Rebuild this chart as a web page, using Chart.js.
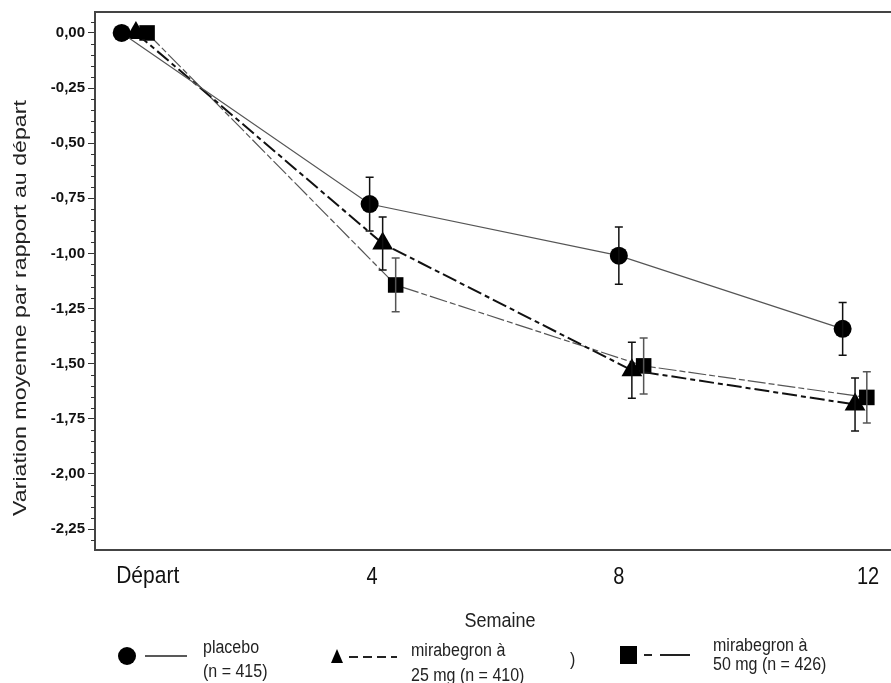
<!DOCTYPE html>
<html lang="fr">
<head>
<meta charset="utf-8">
<script src="https://cdn.jsdelivr.net/npm/chart.js@4.4.0/dist/chart.umd.min.js"></script>
<style>
  html, body { margin: 0; padding: 0; background: #fff; }
  #wrap { width: 891px; height: 683px; }
</style>
</head>
<body>
<div id="wrap"><canvas id="chart" width="891" height="683"></canvas></div>
<script>
// Values: mean change from baseline, with error bars
const xTickValues = [0.19, 3.81, 7.79, 11.81];
const xTickLabels = ['Départ', '4', '8', '12'];
const yTickValues = [0, -0.25, -0.5, -0.75, -1, -1.25, -1.5, -1.75, -2, -2.25];

const placeboWeek = [-0.23, 3.77, 7.79, 11.40];
const placeboMean = [0, -0.776, -1.01, -1.342];
const placeboErr = [0, 0.122, 0.13, 0.12];

const mira25Week = [0, 3.98, 8.0, 11.6];
const mira25Mean = [0, -0.955, -1.53, -1.685];
const mira25Err = [0, 0.12, 0.127, 0.12];

const mira50Week = [0.18, 4.19, 8.19, 11.79];
const mira50Mean = [0, -1.143, -1.51, -1.653];
const mira50Err = [0, 0.122, 0.127, 0.116];

const legendPlacebo = ['placebo', '(n = 415)'];
const legend25 = ['mirabegron à', '25 mg (n = 410)'];
const legend50 = ['mirabegron à', '50 mg (n = 426)'];

const SANS = '"Liberation Sans", Arial, sans-serif';

function toPoints(xs, ys) {
  return xs.map((x, i) => ({ x: x, y: ys[i] }));
}

// text stretched vertically, the source figure has tall narrow lettering
function tallText(ctx, text, x, y, size, align, sy) {
  ctx.save();
  ctx.font = size + 'px ' + SANS;
  ctx.textAlign = align;
  ctx.textBaseline = 'middle';
  ctx.translate(x, y);
  ctx.scale(1, sy);
  ctx.fillText(text, 0, 0);
  ctx.restore();
}

// Error bars
const errorBars = {
  id: 'errorBars',
  afterDatasetsDraw(chart) {
    const ctx = chart.ctx;
    const xs = chart.scales.x, ys = chart.scales.y;
    chart.data.datasets.forEach(ds => {
      if (!ds.errors) return;
      ctx.save();
      ctx.strokeStyle = ds.errColor;
      ctx.lineWidth = 1.5;
      ds.data.forEach((p, i) => {
        const e = ds.errors[i];
        if (!e) return;
        const px = xs.getPixelForValue(p.x);
        const top = ys.getPixelForValue(p.y + e);
        const bot = ys.getPixelForValue(p.y - e);
        ctx.beginPath();
        ctx.moveTo(px, top); ctx.lineTo(px, bot);
        ctx.moveTo(px - 4, top); ctx.lineTo(px + 4, top);
        ctx.moveTo(px - 4, bot); ctx.lineTo(px + 4, bot);
        ctx.stroke();
      });
      ctx.restore();
    });
  }
};

// Frame top line, minor ticks, x labels, axis titles and the legend
const decorations = {
  id: 'decorations',
  afterDraw(chart) {
    const ctx = chart.ctx;
    const a = chart.chartArea;
    const xs = chart.scales.x, ys = chart.scales.y;
    ctx.save();
    ctx.strokeStyle = '#444';
    ctx.lineWidth = 2;
    ctx.beginPath();
    ctx.moveTo(a.left - 1, a.top);
    ctx.lineTo(a.right, a.top);
    ctx.stroke();

    // minor ticks every 0.05
    ctx.lineWidth = 1;
    ctx.strokeStyle = '#333';
    for (let k = 1; k >= -47; k--) {
      if (k % 5 === 0) continue;
      const py = Math.round(ys.getPixelForValue(k * 0.05)) + 0.5;
      if (py < a.top || py > a.bottom) continue;
      ctx.beginPath();
      ctx.moveTo(a.left - 4, py);
      ctx.lineTo(a.left, py);
      ctx.stroke();
    }

    // y title
    ctx.fillStyle = '#222';
    ctx.font = '19px ' + SANS;
    ctx.textAlign = 'center';
    ctx.textBaseline = 'middle';
    ctx.translate(21, 308);
    ctx.rotate(-Math.PI / 2);
    ctx.scale(1.22, 1);
    ctx.fillText('Variation moyenne par rapport au départ', 0, 0);
    ctx.restore();

    ctx.save();
    // x tick labels
    ctx.fillStyle = '#111';
    xTickValues.forEach((v, i) => {
      const px = xs.getPixelForValue(v);
      if (i === 0) tallText(ctx, xTickLabels[i], px, 577, 21, 'center', 1.1);
      else tallText(ctx, xTickLabels[i], px, 577, 20, 'center', 1.2);
    });

    ctx.fillStyle = '#222';
    tallText(ctx, 'Semaine', 500, 621, 18, 'center', 1.15);

    // legend
    ctx.strokeStyle = '#222';
    ctx.fillStyle = '#000';
    ctx.beginPath();
    ctx.arc(127, 656, 9, 0, Math.PI * 2);
    ctx.fill();
    ctx.lineWidth = 1.3;
    ctx.beginPath();
    ctx.moveTo(145, 656); ctx.lineTo(187, 656);
    ctx.stroke();

    ctx.beginPath();
    ctx.moveTo(337, 649); ctx.lineTo(343, 663); ctx.lineTo(331, 663);
    ctx.closePath();
    ctx.fill();
    ctx.lineWidth = 2;
    ctx.setLineDash([9, 5]);
    ctx.beginPath();
    ctx.moveTo(349, 657); ctx.lineTo(397, 657);
    ctx.stroke();
    ctx.setLineDash([]);

    ctx.fillRect(620, 646, 17, 18);
    ctx.beginPath();
    ctx.moveTo(644, 655); ctx.lineTo(652, 655);
    ctx.moveTo(660, 655); ctx.lineTo(690, 655);
    ctx.stroke();

    ctx.fillStyle = '#222';
    tallText(ctx, legendPlacebo[0], 203, 648, 16, 'left', 1.15);
    tallText(ctx, legendPlacebo[1], 203, 672, 16, 'left', 1.15);
    tallText(ctx, legend25[0], 411, 651, 16, 'left', 1.15);
    tallText(ctx, legend25[1], 411, 676, 16, 'left', 1.15);
    tallText(ctx, ')', 570, 660, 16, 'left', 1.15);
    tallText(ctx, legend50[0], 713, 646, 16, 'left', 1.15);
    tallText(ctx, legend50[1], 713, 665, 16, 'left', 1.15);
    ctx.restore();
  }
};

const chart = new Chart(document.getElementById('chart'), {
  type: 'line',
  data: {
    datasets: [
      {
        label: 'placebo',
        data: toPoints(placeboWeek, placeboMean),
        errors: placeboErr,
        errColor: '#111',
        borderColor: '#555',
        borderWidth: 1.2,
        pointStyle: 'circle',
        pointRadius: 9,
        pointBackgroundColor: '#000',
        pointBorderColor: '#000',
        pointBorderWidth: 0
      },
      {
        label: 'mirabegron à 25 mg',
        data: toPoints(mira25Week, mira25Mean),
        errors: mira25Err,
        errColor: '#111',
        borderColor: '#111',
        borderWidth: 2,
        borderDash: [15, 4, 5, 4],
        pointStyle: 'triangle',
        pointRadius: 12,
        pointBackgroundColor: '#000',
        pointBorderColor: '#000',
        pointBorderWidth: 0
      },
      {
        label: 'mirabegron à 50 mg',
        data: toPoints(mira50Week, mira50Mean),
        errors: mira50Err,
        errColor: '#555',
        borderColor: '#555',
        borderWidth: 1.2,
        borderDash: [18, 3, 6, 3],
        pointStyle: 'rect',
        pointRadius: 11,
        pointBackgroundColor: '#000',
        pointBorderColor: '#000',
        pointBorderWidth: 0
      }
    ]
  },
  options: {
    responsive: false,
    animation: false,
    clip: false,
    layout: { autoPadding: false, padding: { top: 12, right: 0, bottom: 0, left: 0 } },
    plugins: {
      legend: { display: false },
      tooltip: { enabled: false }
    },
    scales: {
      x: {
        type: 'linear',
        min: -0.66,
        max: 12.18,
        afterBuildTicks: s => { s.ticks = xTickValues.map(v => ({ value: v })); },
        afterFit: s => { s.height = 133; s.paddingLeft = 0; s.paddingRight = 0; },
        grid: { display: false, drawTicks: false },
        border: { color: '#444', width: 2 },
        ticks: { display: false }
      },
      y: {
        min: -2.345,
        max: 0.095,
        afterBuildTicks: s => { s.ticks = yTickValues.map(v => ({ value: v })); },
        afterFit: s => { s.width = 95; s.paddingTop = 0; s.paddingBottom = 0; },
        grid: { drawOnChartArea: false, drawTicks: true, tickLength: 7, color: '#333', lineWidth: 1 },
        border: { color: '#444', width: 2 },
        ticks: {
          padding: 3,
          color: '#111',
          font: { family: SANS, size: 15, weight: 'bold' },
          callback: v => v.toFixed(2).replace('.', ',')
        }
      }
    }
  },
  plugins: [errorBars, decorations]
});
</script>
</body>
</html>
